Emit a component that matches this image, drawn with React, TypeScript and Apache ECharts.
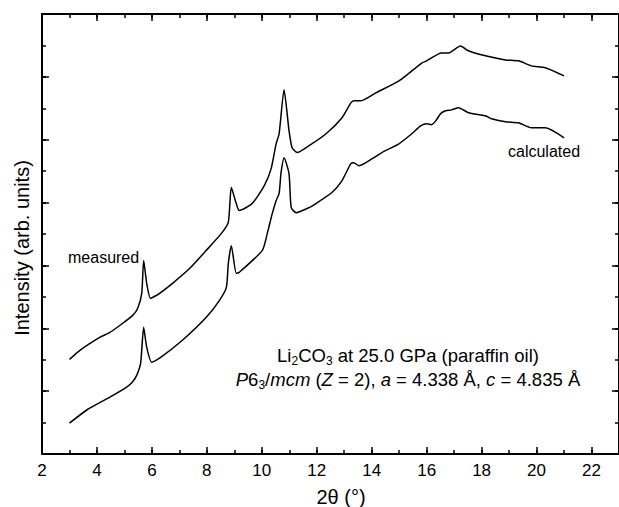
import React, { useEffect, useRef } from "react";
import * as echarts from "echarts";

const FONT = "'Liberation Sans', Arial, Helvetica, sans-serif";

// 2θ positions (degrees) and intensities (arb. units) of the measured pattern
const measuredX = [3.0, 3.38, 4.1, 4.47, 4.94, 5.3, 5.48, 5.63, 5.7, 5.81, 5.95, 6.17, 6.28, 6.75, 7.37, 7.98, 8.53, 8.78, 8.89, 9.07, 9.18, 9.65, 10.09, 10.34, 10.52, 10.63, 10.81, 10.99, 11.1, 11.29, 11.72, 12.34, 12.92, 13.24, 13.35, 13.61, 14.15, 14.99, 15.82, 16.0, 16.54, 16.8, 17.23, 17.52, 18.14, 18.87, 19.34, 19.81, 20.32, 21.0];
const measuredY = [3.01, 3.3, 3.71, 3.87, 4.16, 4.41, 4.63, 5.11, 6.16, 5.43, 4.95, 5.05, 5.11, 5.43, 5.9, 6.48, 7.02, 7.37, 8.48, 7.97, 7.75, 7.97, 8.54, 9.08, 9.87, 10.19, 11.59, 10.29, 9.75, 9.59, 9.81, 10.19, 10.7, 11.17, 11.24, 11.24, 11.49, 11.87, 12.44, 12.51, 12.76, 12.76, 12.98, 12.83, 12.67, 12.54, 12.51, 12.35, 12.29, 12.03];

// 2θ positions and intensities of the calculated pattern
const calculatedX = [3.0, 3.63, 4.47, 5.08, 5.3, 5.45, 5.59, 5.7, 5.81, 5.99, 6.28, 7.11, 7.98, 8.46, 8.71, 8.78, 8.89, 9.07, 9.18, 10.02, 10.2, 10.38, 10.52, 10.63, 10.7, 10.81, 10.99, 11.07, 11.25, 11.72, 11.97, 12.55, 12.92, 13.24, 13.35, 13.53, 13.79, 14.37, 14.99, 15.46, 15.78, 16.0, 16.18, 16.33, 16.51, 16.69, 16.91, 17.16, 17.52, 18.14, 18.36, 18.87, 19.34, 19.81, 20.32, 21.0];
const calculatedY = [0.98, 1.4, 1.81, 2.13, 2.3, 2.51, 2.89, 4.03, 3.4, 2.92, 3.05, 3.62, 4.35, 4.89, 5.3, 6.06, 6.63, 5.75, 5.78, 6.48, 7.02, 7.65, 8.06, 8.29, 8.95, 9.43, 8.92, 7.84, 7.68, 7.84, 7.97, 8.32, 8.7, 9.24, 9.27, 9.17, 9.27, 9.59, 9.87, 10.19, 10.44, 10.51, 10.48, 10.6, 10.83, 10.92, 10.95, 11.02, 10.86, 10.76, 10.67, 10.57, 10.54, 10.38, 10.38, 10.06];

const xTickLabels = ["2", "4", "6", "8", "10", "12", "14", "16", "18", "20", "22"];

const xTitle = "2θ (°)";
const yTitle = "Intensity (arb. units)";
const measuredLabel = "measured";
const calculatedLabel = "calculated";

const zip = (xs: number[], ys: number[]) => xs.map((x, i) => [x, ys[i]]);

export default function App() {
  const ref = useRef<HTMLDivElement>(null);

  useEffect(() => {
    if (!ref.current) return;
    const chart = echarts.init(ref.current, null, { renderer: "svg" });

    const lineStyle = { color: "#000", width: 2 };
    const mkX = (pos: "top" | "bottom", major: boolean, labels: boolean, line: boolean) => ({
      type: "value",
      position: pos,
      min: 2,
      max: 23,
      interval: major ? 2 : 1,
      axisLine: { show: line, onZero: false, lineStyle },
      axisTick: { show: true, inside: true, length: major ? 7 : 4, lineStyle: { color: "#000", width: 1.5 } },
      axisLabel: labels
        ? {
            show: true,
            margin: 8,
            fontSize: 17,
            fontFamily: FONT,
            color: "#000",
            showMaxLabel: false,
            formatter: (v: number) => (xTickLabels.includes(String(v)) ? String(v) : ""),
          }
        : { show: false },
      splitLine: { show: false },
    });
    const mkY = (pos: "left" | "right", major: boolean, line: boolean) => ({
      type: "value",
      position: pos,
      min: major ? -1 : 0,
      max: major ? 13 : 14,
      interval: major ? 2 : 1,
      axisLine: { show: line, onZero: false, lineStyle },
      axisTick: { show: true, inside: true, length: major ? 7 : 4, lineStyle: { color: "#000", width: 1.5 } },
      axisLabel: { show: false },
      splitLine: { show: false },
    });

    const sub = { fontSize: 12, fontFamily: FONT, color: "#000", padding: [10, 0, 0, 0], verticalAlign: "bottom" };

    chart.setOption({
      animation: false,
      backgroundColor: "#fff",
      grid: { left: 42, top: 14, width: 579, height: 440, containLabel: false },
      xAxis: [
        mkX("bottom", true, true, true),
        mkX("bottom", false, false, false),
        mkX("top", true, false, true),
        mkX("top", false, false, false),
      ],
      yAxis: [
        mkY("left", false, true),
        mkY("left", true, false),
        mkY("right", false, true),
        mkY("right", true, false),
      ],
      series: [
        {
          name: measuredLabel,
          type: "line",
          xAxisIndex: 0,
          yAxisIndex: 0,
          data: zip(measuredX, measuredY),
          showSymbol: false,
          smooth: 0.2,
          lineStyle: { color: "#000", width: 1.5 },
        },
        {
          name: calculatedLabel,
          type: "line",
          xAxisIndex: 0,
          yAxisIndex: 0,
          data: zip(calculatedX, calculatedY),
          showSymbol: false,
          smooth: 0.2,
          lineStyle: { color: "#000", width: 1.5 },
        },
      ],
      graphic: [
        {
          type: "text",
          x: 341,
          y: 497,
          style: { text: xTitle, font: `20px ${FONT}`, fill: "#000", textAlign: "center", textVerticalAlign: "middle" },
        },
        {
          type: "text",
          x: 22,
          y: 248,
          rotation: Math.PI / 2,
          style: { text: yTitle, font: `20px ${FONT}`, fill: "#000", textAlign: "center", textVerticalAlign: "middle" },
        },
        {
          type: "text",
          x: 68,
          y: 257,
          style: { text: measuredLabel, font: `16px ${FONT}`, fill: "#000", textAlign: "left", textVerticalAlign: "middle" },
        },
        {
          type: "text",
          x: 508,
          y: 151,
          style: { text: calculatedLabel, font: `16px ${FONT}`, fill: "#000", textAlign: "left", textVerticalAlign: "middle" },
        },
        {
          type: "text",
          x: 408,
          y: 355,
          style: {
            text: "{n|Li}{s|2}{n|CO}{s|3}{n| at 25.0 GPa (paraffin oil)}",
            textAlign: "center",
            textVerticalAlign: "middle",
            fill: "#000",
            rich: {
              n: { fontSize: 18.5, fontFamily: FONT, color: "#000", lineHeight: 24 },
              s: sub,
            },
          },
        },
        {
          type: "text",
          x: 408,
          y: 379,
          style: {
            text: "{i|P}{n|6}{s|3}{n|/}{i|mcm}{n| (}{i|Z}{n| = 2), }{i|a}{n| = 4.338 Å, }{i|c}{n| = 4.835 Å}",
            textAlign: "center",
            textVerticalAlign: "middle",
            fill: "#000",
            rich: {
              n: { fontSize: 18.5, fontFamily: FONT, color: "#000", lineHeight: 24 },
              i: { fontSize: 18.5, fontFamily: FONT, fontStyle: "italic", color: "#000", lineHeight: 24 },
              s: sub,
            },
          },
        },
      ],
    });

    return () => chart.dispose();
  }, []);

  return (
    <div
      ref={ref}
      style={{ position: "fixed", left: 0, top: 0, width: 619, height: 507, background: "#fff" }}
    />
  );
}
